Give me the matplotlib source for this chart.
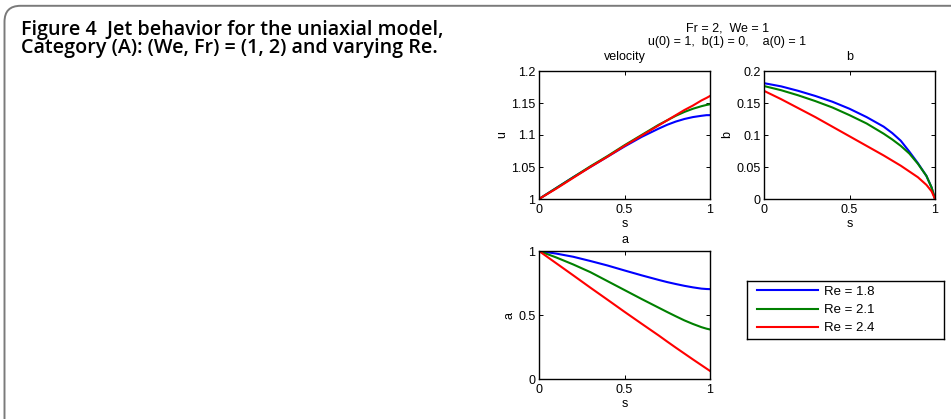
import matplotlib
matplotlib.use("Agg")
import matplotlib.pyplot as plt
from matplotlib.patches import FancyBboxPatch
from matplotlib.transforms import IdentityTransform
from matplotlib.lines import Line2D

# ---- data ----
s = [0.0, 0.1, 0.2, 0.3, 0.4, 0.5, 0.6, 0.7, 0.75, 0.8, 0.85, 0.9, 0.95, 0.98, 1.0]
re_labels = ["Re = 1.8", "Re = 2.1", "Re = 2.4"]
colors = ["#0000ff", "#008000", "#ff0000"]

u_re18 = [1.000, 1.017, 1.034, 1.050, 1.066, 1.082, 1.097, 1.110, 1.116, 1.121, 1.125, 1.128, 1.130, 1.131, 1.131]
u_re21 = [1.000, 1.017, 1.034, 1.051, 1.067, 1.084, 1.100, 1.116, 1.123, 1.130, 1.136, 1.141, 1.145, 1.147, 1.148]
u_re24 = [1.000, 1.016, 1.033, 1.050, 1.066, 1.083, 1.099, 1.115, 1.123, 1.131, 1.139, 1.146, 1.154, 1.158, 1.161]

b_re18 = [0.181, 0.176, 0.169, 0.161, 0.152, 0.141, 0.128, 0.113, 0.103, 0.091, 0.074, 0.056, 0.036, 0.018, 0.0]
b_re21 = [0.1765, 0.170, 0.162, 0.153, 0.143, 0.131, 0.118, 0.102, 0.093, 0.083, 0.071, 0.055, 0.036, 0.018, 0.0]
b_re24 = [0.169, 0.156, 0.142, 0.128, 0.113, 0.098, 0.083, 0.068, 0.060, 0.052, 0.043, 0.034, 0.022, 0.012, 0.0]

a_re18 = [1.000, 0.980, 0.955, 0.922, 0.887, 0.848, 0.810, 0.774, 0.757, 0.742, 0.728, 0.716, 0.706, 0.703, 0.702]
a_re21 = [1.000, 0.950, 0.895, 0.835, 0.765, 0.695, 0.625, 0.557, 0.523, 0.490, 0.458, 0.430, 0.405, 0.393, 0.387]
a_re24 = [1.000, 0.905, 0.810, 0.714, 0.620, 0.525, 0.432, 0.340, 0.292, 0.245, 0.199, 0.153, 0.108, 0.081, 0.063]

u_series = [u_re18, u_re21, u_re24]
b_series = [b_re18, b_re21, b_re24]
a_series = [a_re18, a_re21, a_re24]

x_ticks = [0, 0.5, 1]
x_ticklabels = ["0", "0.5", "1"]
u_ticks = [1, 1.05, 1.1, 1.15, 1.2]
u_ticklabels = ["1", "1.05", "1.1", "1.15", "1.2"]
b_ticks = [0, 0.05, 0.1, 0.15, 0.2]
b_ticklabels = ["0", "0.05", "0.1", "0.15", "0.2"]
a_ticks = [0, 0.5, 1]
a_ticklabels = ["0", "0.5", "1"]

caption_1 = "Figure 4  Jet behavior for the uniaxial model,"
caption_2 = "Category (A): (We, Fr) = (1, 2) and varying Re."
sup_1 = "Fr = 2,  We = 1"
sup_2 = "u(0) = 1,  b(1) = 0,    a(0) = 1"

# ---- figure ----
W, H = 951, 419
fig = plt.figure(figsize=(W / 100, H / 100), dpi=100)
fig.patch.set_facecolor("white")

mfont = ["Liberation Sans", "DejaVu Sans"]
fs = 9


def fx(px):
    return px / W


def fy(py):
    return 1 - py / H


def make_ax(left, top, right, bottom):
    return fig.add_axes([fx(left), fy(bottom), fx(right - left), (bottom - top) / H])


def style(ax, yticks, yticklabels, ylim, title, ylabel, tpad):
    ax.set_xlim(0, 1)
    ax.set_ylim(*ylim)
    ax.set_xticks(x_ticks)
    ax.set_xticklabels(x_ticklabels, family=mfont, fontsize=fs)
    ax.set_yticks(yticks)
    ax.set_yticklabels(yticklabels, family=mfont, fontsize=fs)
    ax.tick_params(direction="in", length=3, width=0.7, top=True, right=True)
    ax.tick_params(axis="x", pad=3.5)
    ax.tick_params(axis="y", pad=2.5)
    for sp in ax.spines.values():
        sp.set_linewidth(1.0)
        sp.set_color("black")
    ax.set_xlabel("s", family=mfont, fontsize=fs, labelpad=1.5)
    ax.set_ylabel(ylabel, family=mfont, fontsize=fs, labelpad=2)
    ax.set_title(title, family=mfont, fontsize=fs, pad=tpad)


ax_u = make_ax(539, 71, 710, 199)
ax_b = make_ax(764, 71, 935, 199)
ax_a = make_ax(539, 251, 710, 379)

for ys, c in zip(u_series, colors):
    ax_u.plot(s, ys, color=c, lw=1.5)
for ys, c in zip(b_series, colors):
    ax_b.plot(s, ys, color=c, lw=1.5)
for ys, c in zip(a_series, colors):
    ax_a.plot(s, ys, color=c, lw=1.5)

style(ax_u, u_ticks, u_ticklabels, (1, 1.2), "velocity", "u", 8)
style(ax_b, b_ticks, b_ticklabels, (0, 0.2), "b", "b", 8)
style(ax_a, a_ticks, a_ticklabels, (0, 1), "a", "a", 6)

# legend box
ax_l = make_ax(747, 281, 944, 339)
ax_l.set_xticks([])
ax_l.set_yticks([])
for sp in ax_l.spines.values():
    sp.set_linewidth(1.0)
handles = [Line2D([0], [0], color=c, lw=1.5) for c in colors]
ax_l.legend(handles, re_labels, loc="center left", frameon=False,
            prop={"family": mfont, "size": 9.5}, handlelength=4.6,
            handletextpad=0.5, labelspacing=0.45, borderaxespad=0.45,
            borderpad=0.3)

# super title lines
fig.text(fx(728), fy(28.5), sup_1, ha="center", va="center", family=mfont, fontsize=fs)
fig.text(fx(727), fy(41.5), sup_2, ha="center", va="center", family=mfont, fontsize=fs)

# caption
cap_font = ["Open Sans", "DejaVu Sans"]
fig.text(fx(21), fy(34.5), caption_1, ha="left", va="baseline", family=cap_font,
         fontweight=600, fontsize=14.2)
fig.text(fx(21), fy(53.3), caption_2, ha="left", va="baseline", family=cap_font,
         fontweight=600, fontsize=14.2)

# rounded frame
frame = FancyBboxPatch((4.5, -30), 1000, H - 5.8 + 30,
                       boxstyle="round,pad=0,rounding_size=16",
                       transform=IdentityTransform(), fill=False,
                       ec="#7a7a7a", lw=1.4)
fig.add_artist(frame)

fig.savefig("out.png", dpi=100)
